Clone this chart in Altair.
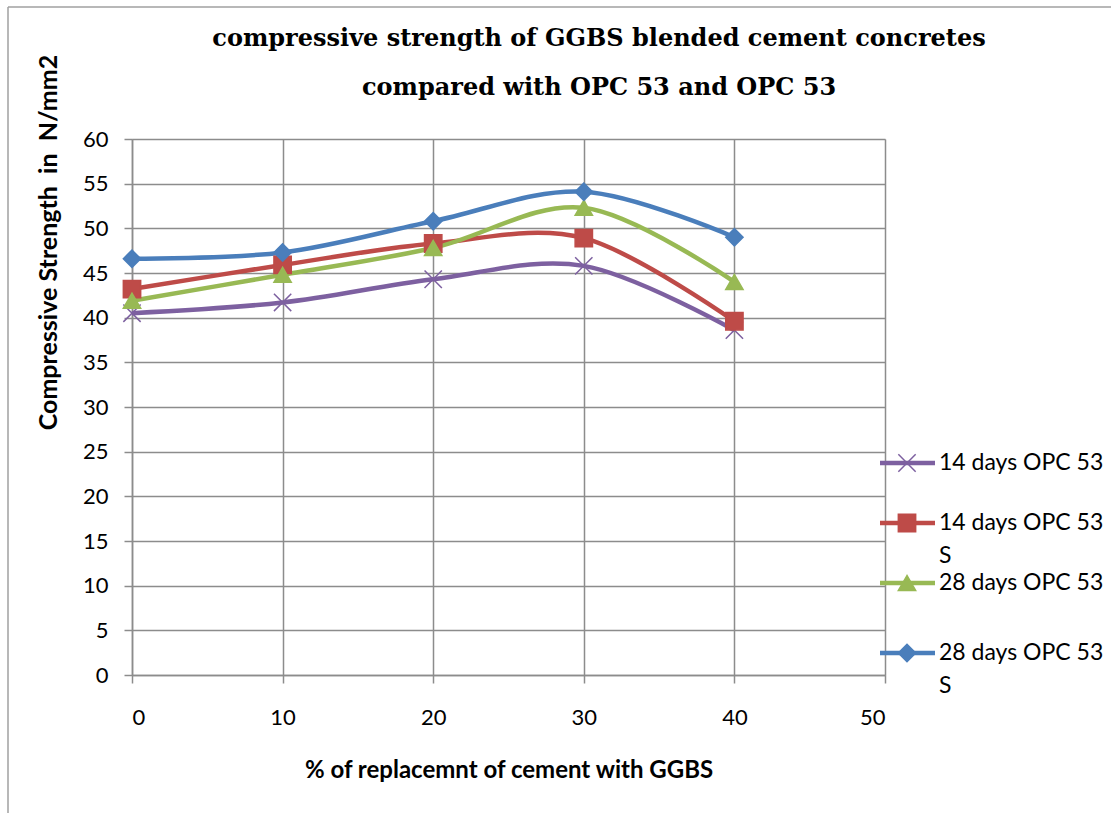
import altair as alt
import pandas as pd

# GGBS replacement level (%)
replacement = [0, 10, 20, 30, 40]

# Compressive strength (N/mm2) for each mix
series_names = ["14 days OPC 53", "14 days OPC 53 S", "28 days OPC 53", "28 days OPC 53 S"]
s14 = [40.5, 41.7, 44.3, 45.8, 38.6]
s14_s = [43.2, 45.9, 48.3, 48.9, 39.6]
s28 = [41.9, 44.8, 47.8, 52.3, 44.0]
s28_s = [46.6, 47.3, 50.8, 54.1, 49.0]

title_lines = ["compressive strength of GGBS blended cement concretes",
               "compared with OPC 53 and OPC 53"]

colors = ["#7D60A0", "#BE4B48", "#98B954", "#4A7EBB"]
cross = "M-1,-1L1,1M-1,1L1,-1"
shapes = [cross, "square", "triangle-up", "diamond"]

values = [s14, s14_s, s28, s28_s]
rows = []
for name, vals in zip(series_names, values):
    for x, v in zip(replacement, vals):
        rows.append({"replacement": x, "strength": v, "series": name})
df = pd.DataFrame(rows)

W, H = 753, 536
GRID = "#8C8C8C"
FONT = "Lato"

color_scale = alt.Scale(domain=series_names, range=colors)
shape_scale = alt.Scale(domain=series_names, range=shapes)

x_enc = alt.X(
    "replacement:Q",
    scale=alt.Scale(domain=[0, 50], nice=False),
    axis=alt.Axis(
        values=[0, 10, 20, 30, 40, 50], title="% of replacemnt of cement with GGBS",
        titleFontWeight="bold", titleFont=FONT, titleFontSize=24, titleColor="black",
        titleY=95, titleBaseline="middle",
        labelFont=FONT, labelFontSize=22, labelColor="black", labelPadding=24,
        tickSize=8, tickColor=GRID, tickWidth=1.5, domainColor=GRID, domainWidth=1.5,
        gridColor=GRID, gridWidth=1.5, grid=True,
    ),
)
y_enc = alt.Y(
    "strength:Q",
    scale=alt.Scale(domain=[0, 60], nice=False, zero=True),
    axis=alt.Axis(
        values=list(range(0, 61, 5)), title="Compressive Strength \u00a0in \u00a0N/mm2",
        titleFontWeight="bold", titleFont=FONT, titleFontSize=25, titleColor="black",
        titleX=-84, titleY=242 - 139, titleAlign="center", titleBaseline="middle", titleAngle=-90,
        labelFont=FONT, labelFontSize=22, labelColor="black", labelPadding=16,
        tickSize=8, tickColor=GRID, tickWidth=1.5, domainColor=GRID, domainWidth=1.5,
        gridColor=GRID, gridWidth=1.5, grid=True,
    ),
)

base = alt.Chart(df)

lines = base.mark_line(interpolate="cardinal", strokeWidth=4.5).encode(
    x=x_enc, y=y_enc,
    color=alt.Color("series:N", scale=color_scale, legend=None),
    detail="series:N",
)

points = base.mark_point(filled=True, size=300, strokeWidth=1.5, opacity=1).encode(
    x="replacement:Q", y="strength:Q",
    color=alt.Color("series:N", scale=color_scale, legend=None),
    stroke=alt.Stroke("series:N", scale=color_scale, legend=None),
    shape=alt.Shape("series:N", scale=shape_scale, legend=None),
)

# Legend drawn beside the plot: line sample, marker and label per series
legend_rows_y = [324, 384, 444, 514]
legend_layers = []
for name, ly in zip(series_names, legend_rows_y):
    one = alt.Chart(pd.DataFrame({"series": [name]}))
    legend_layers.append(
        one.mark_rule(strokeWidth=4.5).encode(
            x=alt.value(748), x2=alt.value(803), y=alt.value(ly),
            color=alt.Color("series:N", scale=color_scale, legend=None),
        )
    )
    legend_layers.append(
        one.mark_point(filled=True, size=300, strokeWidth=1.5, opacity=1).encode(
            x=alt.value(775), y=alt.value(ly),
            color=alt.Color("series:N", scale=color_scale, legend=None),
            stroke=alt.Stroke("series:N", scale=color_scale, legend=None),
            shape=alt.Shape("series:N", scale=shape_scale, legend=None),
        )
    )
    label = name.rsplit(" ", 1) if name.endswith(" S") else [name]
    legend_layers.append(
        one.mark_text(
            text=label, align="left", baseline="top", font=FONT, fontSize=23,
            lineHeight=33, color="black",
        ).encode(x=alt.value(807), y=alt.value(ly - 11))
    )

# Two-line chart title above the plot
one_row = pd.DataFrame({"a": [0]})
title = alt.Chart(one_row).mark_text(
    text=title_lines, align="center", baseline="top", font="DejaVu Serif",
    fontWeight="bold", fontSize=24, lineHeight=49, color="black",
).encode(x=alt.value(467), y=alt.value(-112))

# Outer chart frame (left and top edges)
frame_left = alt.Chart(one_row).mark_rule(color="#A0A0A0", strokeWidth=1.5).encode(
    x=alt.value(-124), y=alt.value(-132), y2=alt.value(680)
)
frame_top = alt.Chart(one_row).mark_rule(color="#A0A0A0", strokeWidth=1.5).encode(
    x=alt.value(-124), x2=alt.value(985), y=alt.value(-132)
)

chart = alt.layer(frame_left, frame_top, lines, points, title, *legend_layers).properties(
    width=W, height=H,
    autosize=alt.AutoSizeParams(type="none"),
    padding={"left": 132, "top": 139, "right": 226, "bottom": 138},
).configure_view(stroke=None).configure(background="white")

chart.save("out.html", embed_options={"renderer": "svg", "actions": False})
